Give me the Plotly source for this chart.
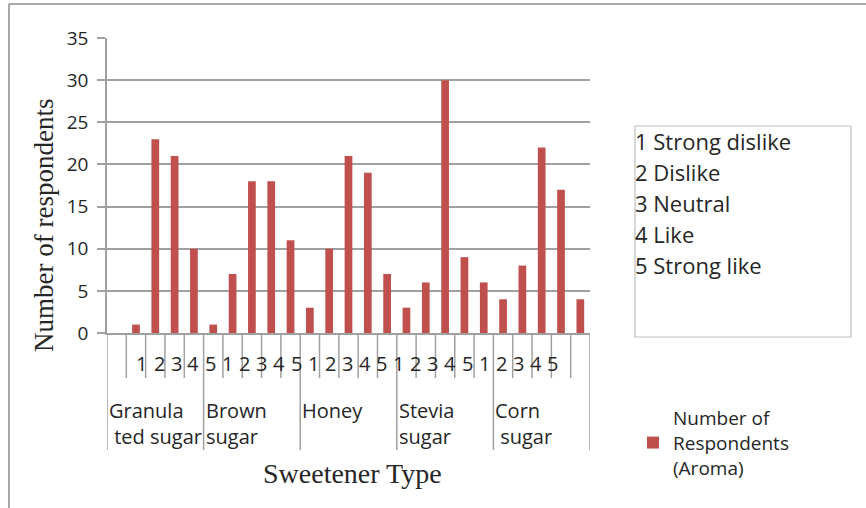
import plotly.graph_objects as go

# ---------------- data ----------------
sweeteners = ["Granulated sugar", "Brown sugar", "Honey", "Stevia sugar", "Corn sugar"]
sweetener_labels = ["Granula<br> ted sugar", "Brown<br>sugar", "Honey", "Stevia<br>sugar", "Corn<br> sugar"]
ratings = ["1", "2", "3", "4", "5"]
granulated = [0, 1, 23, 21, 10]
brown = [1, 7, 18, 18, 11]
honey = [3, 10, 21, 19, 7]
stevia = [3, 6, 30, 9, 6]
corn = [4, 8, 22, 17, 4]
scale_labels = ["1 Strong dislike", "2 Dislike", "3 Neutral", "4 Like", "5 Strong like"]
y_ticks = [0, 5, 10, 15, 20, 25, 30, 35]
series_name = "Number of<br>Respondents<br>(Aroma)"
x_title = "Sweetener Type"
y_title = "Number of respondents"

groups = [granulated, brown, honey, stevia, corn]
values = [v for g in groups for v in g]
n = len(values)
xs = list(range(n))

# ---------------- layout helpers (pixel -> paper) ----------------
W, H = 866, 508
L, R, T, B = 107, 590, 38, 333
def px_x(p):
    return (p - L) / (R - L)
def px_y(p):
    return (B - p) / (B - T)

SANS = "Open Sans, Liberation Sans, sans-serif"
SERIF = "Liberation Serif, Times New Roman, serif"
AXC = "#a0a0a0"
TXT = "#262626"
RED = "#c0504d"

fig = go.Figure()
fig.add_trace(go.Bar(x=xs, y=values, width=0.4, marker=dict(color=RED, line=dict(width=0)),
                     name=series_name, showlegend=True))

shapes = []
annotations = []

# category tick lines below axis
for i in range(n + 1):
    long_line = (i % 5 == 0)
    shapes.append(dict(type="line", xref="x", yref="paper", x0=i - 0.5, x1=i - 0.5,
                       y0=0, y1=px_y(450) if long_line else px_y(378),
                       line=dict(color=AXC, width=1.5)))

# rating labels (drifting placement like the reference)
rating_row = [r for _ in sweeteners for r in ratings]
for k, lab in enumerate(rating_row):
    annotations.append(dict(text=lab, xref="x", yref="paper", x=1.31 + k * 0.886, y=px_y(363),
                            xanchor="center", yanchor="middle", showarrow=False,
                            font=dict(family=SANS, size=20, color=TXT)))

# group labels
for g, lab in enumerate(sweetener_labels):
    annotations.append(dict(text=lab, xref="x", yref="paper", x=g * 5 - 0.5, y=px_y(395),
                            xanchor="left", yanchor="top", align="left", xshift=0, showarrow=False,
                            font=dict(family=SANS, size=20, color=TXT)))

# axis titles
annotations.append(dict(text=x_title, xref="paper", yref="paper", x=px_x(352), y=px_y(473),
                        xanchor="center", yanchor="middle", showarrow=False,
                        font=dict(family=SERIF, size=28, color=TXT)))
annotations.append(dict(text=y_title, xref="paper", yref="paper", x=px_x(44), y=px_y(226),
                        xanchor="center", yanchor="middle", textangle=-90, showarrow=False,
                        font=dict(family=SERIF, size=27, color=TXT)))

# scale text box
shapes.append(dict(type="rect", xref="paper", yref="paper", x0=px_x(635), x1=px_x(851),
                   y0=px_y(337), y1=px_y(126), line=dict(color="#bfbfbf", width=1.2)))
for j, lab in enumerate(scale_labels):
    annotations.append(dict(text=lab, xref="paper", yref="paper", x=px_x(633), y=px_y(141 + j * 31),
                            xanchor="left", yanchor="middle", showarrow=False,
                            font=dict(family=SANS, size=22, color=TXT)))

# outer frame (left & top)
shapes.append(dict(type="line", xref="paper", yref="paper", x0=px_x(9), x1=px_x(9),
                   y0=px_y(4), y1=px_y(530), line=dict(color="#8c8c8c", width=1.5)))
shapes.append(dict(type="line", xref="paper", yref="paper", x0=px_x(9), x1=px_x(880),
                   y0=px_y(4), y1=px_y(4), line=dict(color="#8c8c8c", width=1.5)))

fig.update_layout(
    width=W, height=H,
    margin=dict(l=L, r=W - R, t=T, b=H - B, pad=0),
    paper_bgcolor="white", plot_bgcolor="white",
    showlegend=True,
    legend=dict(x=px_x(633), y=px_y(399), xanchor="left", yanchor="top",
                font=dict(family=SANS, size=19, color=TXT), bgcolor="rgba(0,0,0,0)",
                itemwidth=30),
    xaxis=dict(range=[-0.5, n - 0.5], showticklabels=False, showgrid=False, zeroline=False,
               showline=True, linecolor=AXC, linewidth=1.5, ticks=""),
    yaxis=dict(range=[0, 35], tickvals=y_ticks, showgrid=True, gridcolor=AXC, gridwidth=1.5,
               zeroline=False, showline=True, linecolor=AXC, linewidth=1.5,
               ticks="outside", ticklen=8, tickcolor=AXC, tickwidth=1.5,
               ticklabelstandoff=5,
               tickfont=dict(family=SANS, size=19, color=TXT)),
    shapes=shapes, annotations=annotations,
    bargap=0.6,
)

fig.write_html("out.html", config={"displayModeBar": False},
               post_script="document.body.style.margin='0';document.body.style.overflow='hidden';")
